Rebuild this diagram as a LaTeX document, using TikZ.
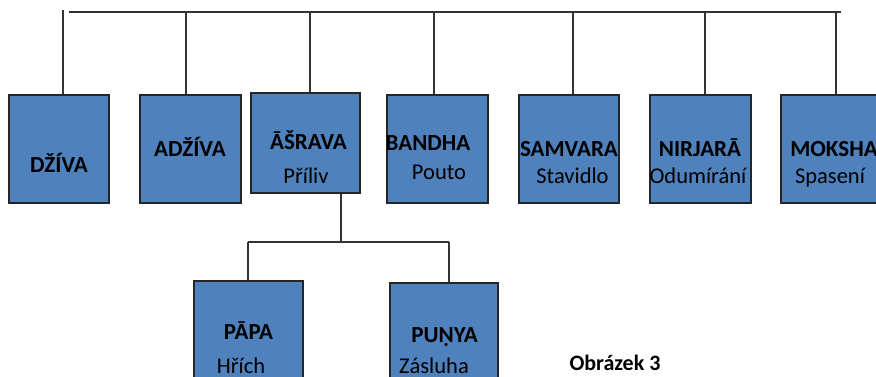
\documentclass[tikz,border=0pt]{standalone}
\usepackage{fontspec}
\setmainfont{Carlito}
\definecolor{boxblue}{HTML}{4F81BD}
\definecolor{wire}{HTML}{333333}
\pgfdeclarelayer{wires}
\pgfsetlayers{wires,main}
\begin{document}
\begin{tikzpicture}[x=1pt,y=-1pt,
  box/.style={draw=black!85,line width=1.2pt,fill=boxblue,inner sep=0pt},
  wirel/.style={draw=wire,line width=1.4pt},
  title/.style={font=\fontsize{23}{27}\selectfont\bfseries,anchor=base,inner sep=0pt},
  sub/.style={font=\fontsize{22.5}{27}\selectfont,anchor=base,inner sep=0pt}]
\useasboundingbox (0,0) rectangle (876,377);
\clip (0,0) rectangle (876,377);

% top row of boxes
\node[box,minimum width=100pt,minimum height=108pt] (dziva)   at (59,149)    {};
\node[box,minimum width=101pt,minimum height=108pt] (adziva)  at (190.5,149) {};
\node[box,minimum width=109pt,minimum height=100pt] (asrava)  at (305.5,143) {};
\node[box,minimum width=101pt,minimum height=108pt] (bandha)  at (437.5,149) {};
\node[box,minimum width=100pt,minimum height=108pt] (samvara) at (569,149)   {};
\node[box,minimum width=101pt,minimum height=108pt] (nirjara) at (700.5,149) {};
\node[box,minimum width=114pt,minimum height=108pt] (moksha)  at (838,149)   {};

% second row
\node[box,minimum width=109pt,minimum height=119pt] (papa)  at (248.5,340.5) {};
\node[box,minimum width=108pt,minimum height=117pt] (punya) at (444,341.5)   {};

% labels
\node[title] (tdziva)   at (59,172)  {DŽÍVA};
\node[title] (tadziva)  at (190,157) {ADŽÍVA};
\node[title] (tasrava)  at (308.5,150) {ĀŠRAVA};
\node[sub]   (sasrava)  at (306,183) {Příliv};
\node[title] (tbandha)  at (428,151) {BANDHA};
\node[sub]   (sbandha)  at (439,180) {Pouto};
\node[title] (tsamvara) at (569,157) {SAMVARA};
\node[sub]   (ssamvara) at (572.5,183) {Stavidlo};
\node[title] (tnirjara) at (700,157) {NIRJARĀ};
\node[sub]   (snirjara) at (698,183) {Odumírání};
\node[title] (tmoksha)  at (834,157) {MOKSHA};
\node[sub]   (smoksha)  at (830,184) {Spasení};
\node[title] (tpapa)    at (248.5,339) {PĀPA};
\node[sub]   (spapa)    at (241,373) {Hřích};
\node[title] (tpunya)   at (444.5,342) {PUṆYA};
\node[sub]   (spunya)   at (434,373) {Zásluha};
\node[title,font=\fontsize{22}{26}\selectfont\bfseries] (caption) at (615,370) {Obrázek 3};

% connectors sit behind the boxes
\begin{pgfonlayer}{wires}
% top bus
\coordinate (busl) at (69,12);
\coordinate (busr) at (841,12);
\draw[wirel] (busl) -- (busr);
\coordinate (t1) at (63,10);
\coordinate (t2) at (186,12);
\coordinate (t3) at (310,12);
\coordinate (t4) at (434,12);
\coordinate (t5) at (573,12);
\coordinate (t6) at (705,12);
\coordinate (t7) at (836,12);
\draw[wirel] (t1) -- (t1 |- dziva.north);
\draw[wirel] (t2) -- (t2 |- adziva.north);
\draw[wirel] (t3) -- (t3 |- asrava.north);
\draw[wirel] (t4) -- (t4 |- bandha.north);
\draw[wirel] (t5) -- (t5 |- samvara.north);
\draw[wirel] (t6) -- (t6 |- nirjara.north);
\draw[wirel] (t7) -- (t7 |- moksha.north);

% branch below ASRAVA
\coordinate (a0) at (341,193);
\coordinate (aj) at (341,242);
\coordinate (al) at (248,242);
\coordinate (ar) at (449,242);
\draw[wirel] (a0 |- asrava.south) -- (aj);
\draw[wirel] (al) -- (ar);
\draw[wirel] (al) -- (al |- papa.north);
\draw[wirel] (ar) -- (ar |- punya.north);
\end{pgfonlayer}
\end{tikzpicture}
\end{document}
